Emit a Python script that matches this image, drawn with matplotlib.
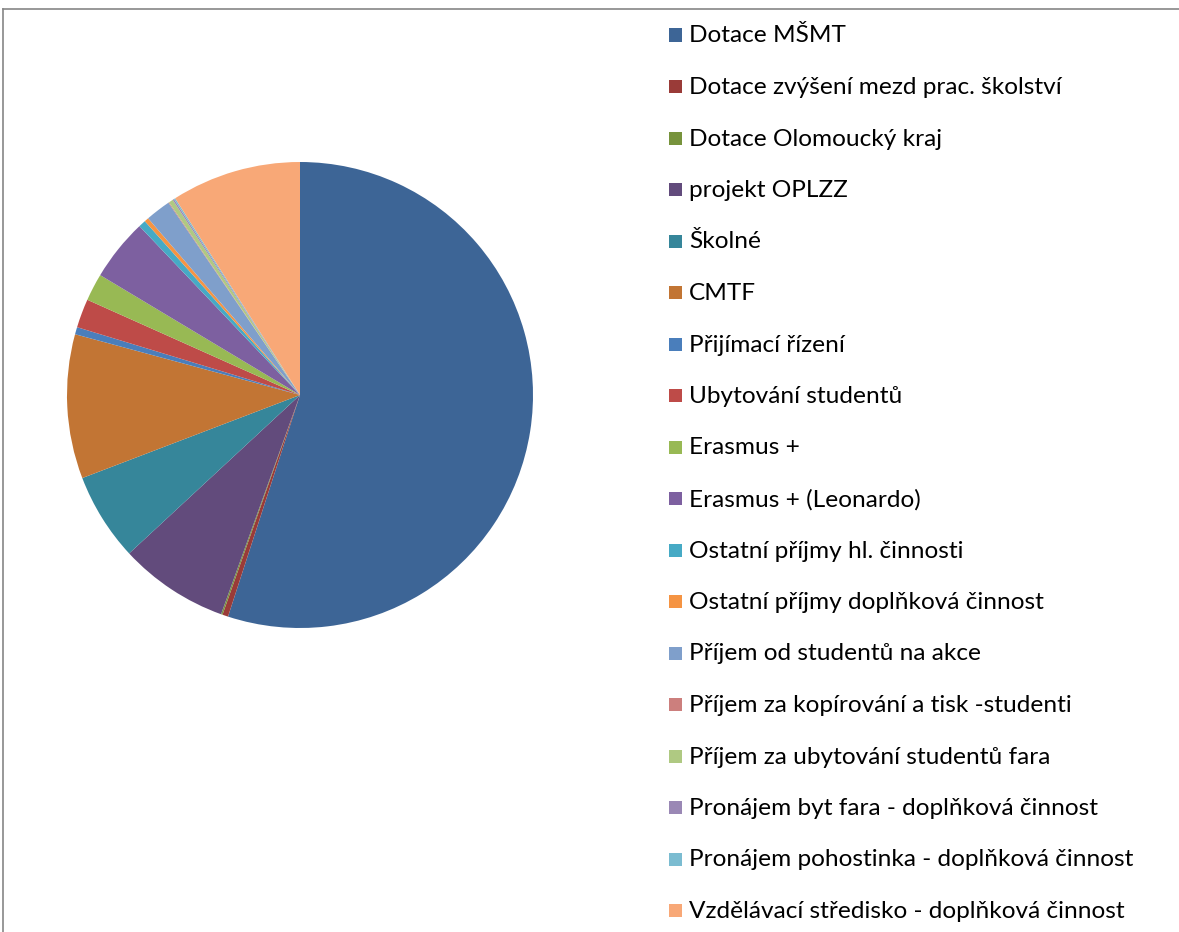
import matplotlib.pyplot as plt
from matplotlib.patches import Rectangle
from matplotlib.lines import Line2D

labels = [
    "Dotace MŠMT",
    "Dotace zvýšení mezd prac. školství",
    "Dotace Olomoucký kraj",
    "projekt OPLZZ",
    "Školné",
    "CMTF",
    "Přijímací řízení",
    "Ubytování studentů",
    "Erasmus +",
    "Erasmus + (Leonardo)",
    "Ostatní příjmy hl. činnosti",
    "Ostatní příjmy doplňková činnost",
    "Příjem od studentů na akce",
    "Příjem za kopírování a tisk -studenti",
    "Příjem za ubytování studentů fara",
    "Pronájem byt fara - doplňková činnost",
    "Pronájem pohostinka - doplňková činnost",
    "Vzdělávací středisko - doplňková činnost",
]
# shares in percent
values = [55.0, 0.4, 0.1, 7.6, 6.1, 10.0, 0.5, 2.0, 1.9, 4.3,
          0.5, 0.3, 1.75, 0.05, 0.3, 0.1, 0.1, 9.0]
colors = ["#3d6596", "#9a3b38", "#77933c", "#624b7c", "#36869a", "#c27534",
          "#4a7ebb", "#be4b48", "#98b954", "#7d60a0", "#46aac5", "#f59443",
          "#7f9fcb", "#cc7f7d", "#afc982", "#9a88b5", "#7bbcd1", "#f8a877"]

W, H = 1179, 932
fig = plt.figure(figsize=(W / 100, H / 100), dpi=100)

# pie axes: centre (300, 395), radius 233 px
cx, cy, r = 300, 395, 233
ax = fig.add_axes([(cx - r) / W, (H - cy - r) / H, 2 * r / W, 2 * r / H])
ax.pie(values, colors=colors, startangle=90, counterclock=False,
       wedgeprops=dict(linewidth=0))
ax.set_xlim(-1, 1)
ax.set_ylim(-1, 1)
ax.set_aspect("equal")
ax.axis("off")

# chart border (only top and left edges are visible)
fig.add_artist(Line2D([3 / W, 1], [1 - 9 / H, 1 - 9 / H], color="#868686", lw=1.2))
fig.add_artist(Line2D([3 / W, 3 / W], [0, 1 - 9 / H], color="#868686", lw=1.2))

# legend drawn by hand
y0, step = 35, 51.5
for i, (lab, col) in enumerate(zip(labels, colors)):
    y = y0 + i * step
    fig.add_artist(Rectangle((669 / W, 1 - (y + 6.5) / H), 13 / W, 13 / H,
                             transform=fig.transFigure, facecolor=col, edgecolor="none"))
    fig.text(689 / W, 1 - (y + 1) / H, lab, fontsize=17.6, family="Lato",
             va="center", ha="left", color="#000000")

fig.savefig("out.png", dpi=100)
